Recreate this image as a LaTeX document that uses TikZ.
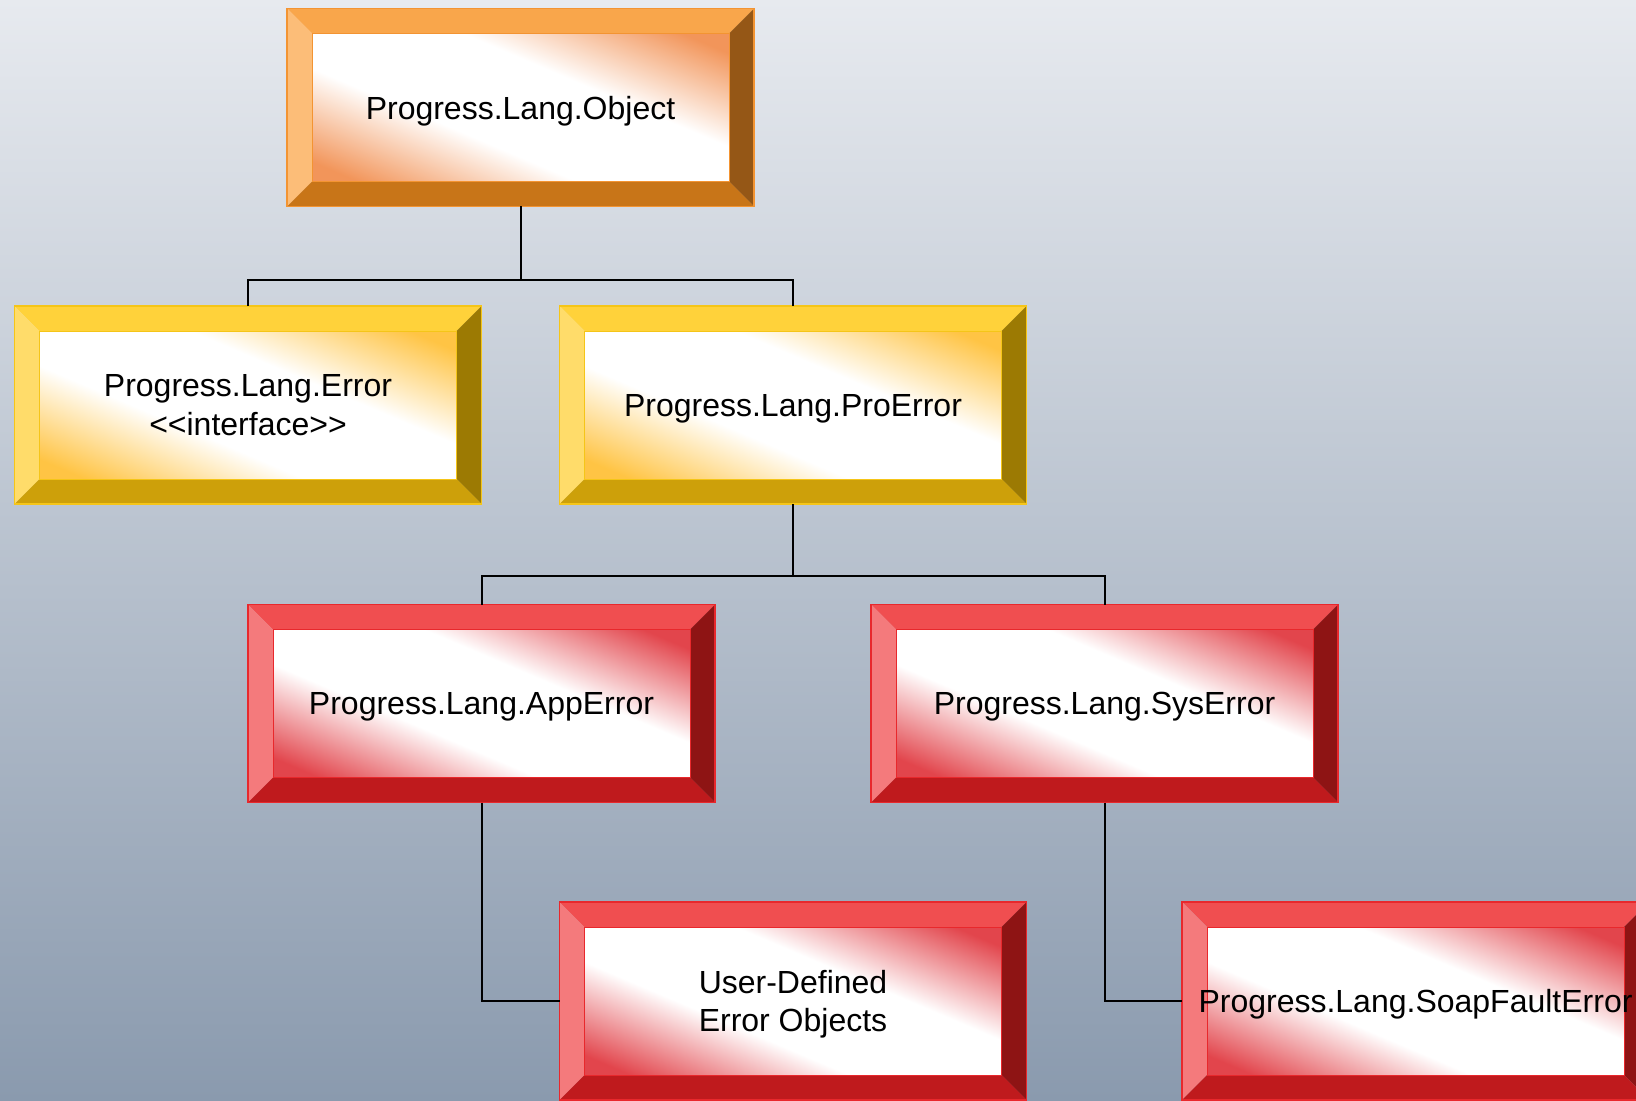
\documentclass[tikz,border=0pt]{standalone}
\usepackage{fontspec}
\setmainfont{Liberation Sans}[Ligatures=TeXOff]
\usepackage{tikz}
\usepackage{xcolor}

\definecolor{bgtop}{HTML}{E7EAEF}
\definecolor{bgbot}{HTML}{8A9AAE}
% bevel colours: top, left, right, bottom, outline, inner glow
\definecolor{orgtop}{HTML}{F9A64B}
\definecolor{orgleft}{HTML}{FCBD78}
\definecolor{orgright}{HTML}{955716}
\definecolor{orgbot}{HTML}{C87518}
\definecolor{orgedge}{HTML}{F39432}
\definecolor{orgglow}{HTML}{F2955A}
\definecolor{yeltop}{HTML}{FFD23A}
\definecolor{yelleft}{HTML}{FFDC6A}
\definecolor{yelright}{HTML}{9C7A03}
\definecolor{yelbot}{HTML}{CDA00A}
\definecolor{yeledge}{HTML}{F5C518}
\definecolor{yelglow}{HTML}{FFC444}
\definecolor{redtop}{HTML}{F04E50}
\definecolor{redleft}{HTML}{F47A7C}
\definecolor{redright}{HTML}{8E1414}
\definecolor{redbot}{HTML}{BF1A1D}
\definecolor{rededge}{HTML}{E8282C}
\definecolor{redglow}{HTML}{E2454C}
\colorlet{glowc}{orgglow}

% tinted corners, white band along the diagonal
\pgfdeclarehorizontalshading[glowc]{cornerglow}{100bp}{color(0bp)=(glowc);
  color(21bp)=(glowc); color(40bp)=(white); color(60bp)=(white);
  color(79bp)=(glowc); color(100bp)=(glowc)}

\newcommand\boxfont{\fontsize{16}{19.3}\selectfont}

\tikzset{
  bevelbox/.style={minimum width=233.5pt, minimum height=99pt, inner sep=0pt,
    outer sep=0pt, draw=#1edge, line width=0.6pt, font=\boxfont, align=center,
    text depth=0pt,
    path picture={
      \coordinate (bb-sw) at (path picture bounding box.south west);
      \coordinate (bb-ne) at (path picture bounding box.north east);
      \coordinate (bb-nw) at (path picture bounding box.north west);
      \coordinate (bb-se) at (path picture bounding box.south east);
      \coordinate (in-sw) at ([shift={(12.5pt,12.5pt)}]bb-sw);
      \coordinate (in-ne) at ([shift={(-12.5pt,-12.5pt)}]bb-ne);
      \coordinate (in-nw) at ([shift={(12.5pt,-12.5pt)}]bb-nw);
      \coordinate (in-se) at ([shift={(-12.5pt,12.5pt)}]bb-se);
      \fill[#1top] (bb-nw) -- (bb-ne) -- (in-ne) -- (in-nw) -- cycle;
      \fill[#1left] (bb-nw) -- (in-nw) -- (in-sw) -- (bb-sw) -- cycle;
      \fill[#1right] (bb-ne) -- (bb-se) -- (in-se) -- (in-ne) -- cycle;
      \fill[#1bot] (bb-sw) -- (in-sw) -- (in-se) -- (bb-se) -- cycle;
      \colorlet{glowc}{#1glow}
      \shade[shading=cornerglow, shading angle=66.9] (in-sw) rectangle (in-ne);
      \draw[#1edge, line width=0.5pt] (in-sw) rectangle (in-ne);
    }},
  link/.style={line width=1pt, black},
}

\begin{document}
\begin{tikzpicture}[x=0.5pt, y=0.5pt]
  \useasboundingbox (0,0) rectangle (1636,1100);
  \clip (0,0) rectangle (1636,1100);
  % backdrop
  \shade[top color=bgtop, bottom color=bgbot] (0,0) rectangle (1636,1100);

  % class boxes
  \node[bevelbox=org] (obj) at (520.5,992.5) {Progress.Lang.Object};
  \node[bevelbox=yel] (err) at (248,695) {Progress.Lang.Error\\<<interface>>};
  \node[bevelbox=yel] (pro) at (793,695) {Progress.Lang.ProError};
  \node[bevelbox=red] (app) at (481.5,396.5) {Progress.Lang.AppError};
  \node[bevelbox=red] (sys) at (1104.5,396.5) {Progress.Lang.SysError};
  \node[bevelbox=red] (usr) at (793,99) {User-Defined\\ Error Objects};
  \node[bevelbox=red] (soap) at (1415.5,99) {Progress.Lang.SoapFaultError};

  % inheritance links
  \draw[link] (obj.south) -- ++(0,-73) -| (err.north);
  \draw[link] (obj.south) -- ++(0,-73) -| (pro.north);
  \draw[link] (pro.south) -- ++(0,-72) -| (app.north);
  \draw[link] (pro.south) -- ++(0,-72) -| (sys.north);
  \draw[link] (app.south) |- (usr.west);
  \draw[link] (sys.south) |- (soap.west);
\end{tikzpicture}
\end{document}
